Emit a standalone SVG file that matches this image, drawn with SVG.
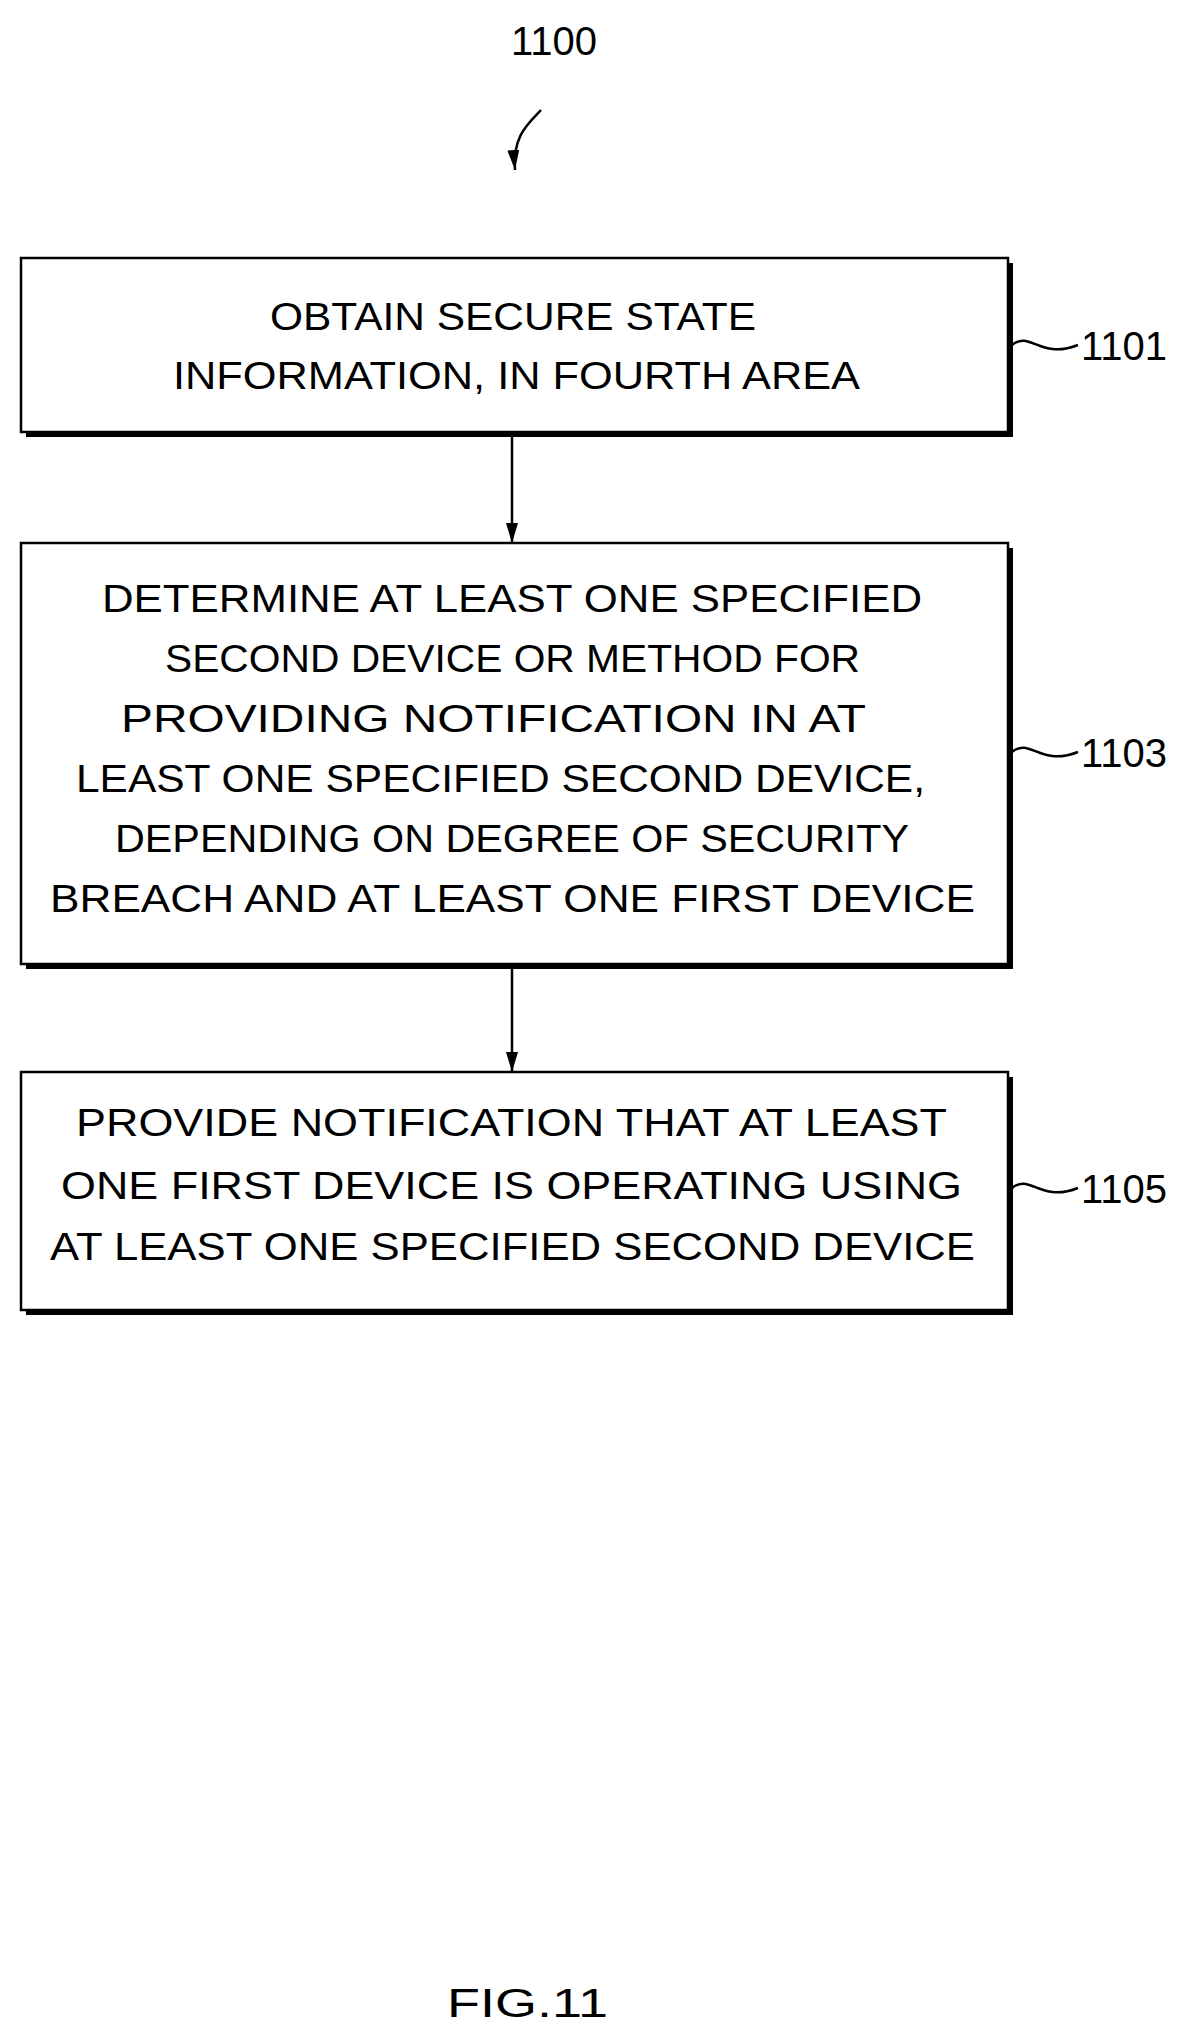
<svg xmlns="http://www.w3.org/2000/svg" width="1199" height="2036" viewBox="0 0 1199 2036">
<style>
text{font-family:"Liberation Sans Narrow","Liberation Sans",Arial,sans-serif;font-size:38px;fill:#000}
.lb{font-size:40px}
.box{fill:#fff;stroke:#000;stroke-width:2.5}
.sh{fill:#000}
.c{fill:none;stroke:#000;stroke-width:2.5}
</style>
<defs>
<marker id="a2" markerWidth="20" markerHeight="12" refX="20" refY="6" orient="auto" markerUnits="userSpaceOnUse"><path d="M0,0 L20,6 L0,12 Z"/></marker></defs>
<rect width="1199" height="2036" fill="#fff"/>
<g id="title"><text class="lb" x="554" y="55" text-anchor="middle">1100</text>
<path class="c" d="M541,110 C530,122 512,135 515,170" marker-end="url(#a2)"/></g>
<g id="n1101"><rect class="sh" x="26" y="263" width="987" height="174"/><rect class="box" x="21" y="258" width="987" height="174"/>
<text x="270" y="330" textLength="486" lengthAdjust="spacingAndGlyphs">OBTAIN SECURE STATE</text>
<text x="173" y="389" textLength="687" lengthAdjust="spacingAndGlyphs">INFORMATION, IN FOURTH AREA</text>
<path class="c" d="M1012,345 C1030,330 1040,360 1078,345"/><text class="lb" x="1081" y="360">1101</text></g>
<g id="n1103"><rect class="sh" x="26" y="548" width="987" height="421"/><rect class="box" x="21" y="543" width="987" height="421"/>
<text x="102" y="612" textLength="820" lengthAdjust="spacingAndGlyphs">DETERMINE AT LEAST ONE SPECIFIED</text>
<text x="165" y="672" textLength="695" lengthAdjust="spacingAndGlyphs">SECOND DEVICE OR METHOD FOR</text>
<text x="121" y="732" textLength="745" lengthAdjust="spacingAndGlyphs">PROVIDING NOTIFICATION IN AT</text>
<text x="76" y="792" textLength="849" lengthAdjust="spacingAndGlyphs">LEAST ONE SPECIFIED SECOND DEVICE,</text>
<text x="115" y="852" textLength="794" lengthAdjust="spacingAndGlyphs">DEPENDING ON DEGREE OF SECURITY</text>
<text x="50" y="912" textLength="925" lengthAdjust="spacingAndGlyphs">BREACH AND AT LEAST ONE FIRST DEVICE</text>
<path class="c" d="M1012,752 C1030,737 1040,767 1078,752"/><text class="lb" x="1081" y="767">1103</text></g>
<g id="n1105"><rect class="sh" x="26" y="1077" width="987" height="238"/><rect class="box" x="21" y="1072" width="987" height="238"/>
<text x="76" y="1136" textLength="871" lengthAdjust="spacingAndGlyphs">PROVIDE NOTIFICATION THAT AT LEAST</text>
<text x="61" y="1199" textLength="901" lengthAdjust="spacingAndGlyphs">ONE FIRST DEVICE IS OPERATING USING</text>
<text x="50" y="1260" textLength="925" lengthAdjust="spacingAndGlyphs">AT LEAST ONE SPECIFIED SECOND DEVICE</text>
<path class="c" d="M1012,1188 C1030,1173 1040,1203 1078,1188"/><text class="lb" x="1081" y="1203">1105</text></g>
<g id="connectors">
<line class="c" x1="512" y1="437" x2="512" y2="543" marker-end="url(#a2)"/>
<line class="c" x1="512" y1="969" x2="512" y2="1072" marker-end="url(#a2)"/>
</g>
<text class="lb" x="447" y="2017" textLength="161" lengthAdjust="spacingAndGlyphs">FIG.11</text>
</svg>
